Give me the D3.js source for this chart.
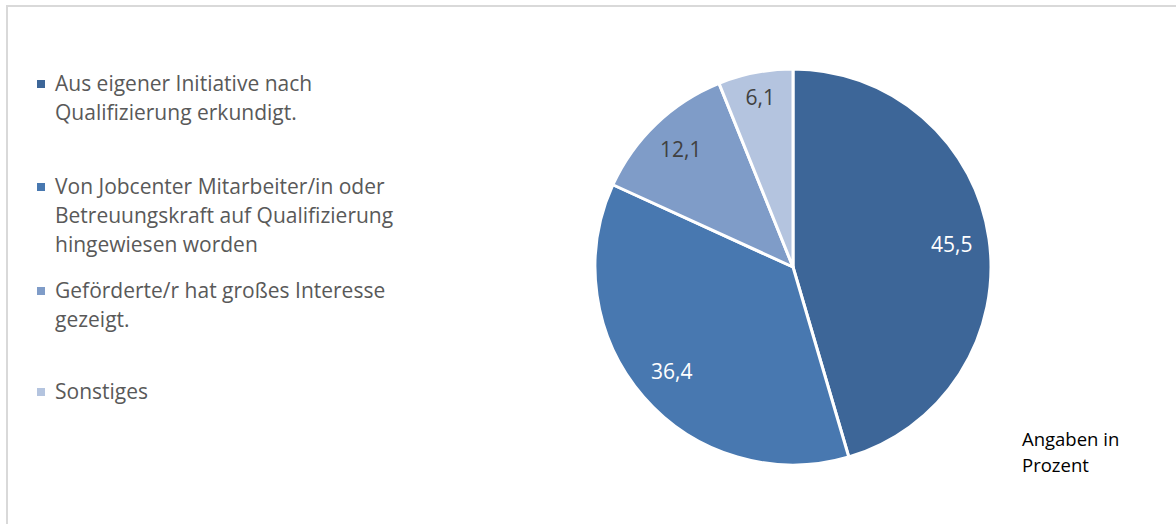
<!DOCTYPE html>
<meta charset="utf-8">
<script src="https://d3js.org/d3.v7.min.js"></script>
<style>
body { margin: 0; background: #fff; }
text { font-family: "Open Sans", sans-serif; }
</style>
<body>
<div id="chart"></div>
<script>

// data
var categories = [
  ["Aus eigener Initiative nach", "Qualifizierung erkundigt."],
  ["Von Jobcenter Mitarbeiter/in oder", "Betreuungskraft auf Qualifizierung", "hingewiesen worden"],
  ["Geförderte/r hat großes Interesse", "gezeigt."],
  ["Sonstiges"]
];
var values = [45.5, 36.4, 12.1, 6.1];
var valueLabels = ["45,5", "36,4", "12,1", "6,1"];
var colors = ["#3d6698", "#4878b0", "#7f9cc8", "#b4c4df"];
var labelColors = ["#ffffff", "#ffffff", "#404040", "#404040"];
var note = ["Angaben in", "Prozent"];

var width = 1176, height = 524;

var svg = d3.select("#chart")
  .append("svg")
    .attr("width", width)
    .attr("height", height)
    .style("display", "block");

// chart frame (right and bottom edges fall outside the picture)
svg.append("rect")
  .attr("x", 7).attr("y", 6)
  .attr("width", 1200).attr("height", 560)
  .attr("fill", "none")
  .attr("stroke", "#d9d9d9")
  .attr("stroke-width", 2);

// pie
var cx = 793, cy = 267, r = 198;
var labelPos = [0.81, 0.81, 0.82, 0.87]; // label distance as share of radius
var pie = d3.pie().sort(null).value(function(d) { return d; });
var arc = d3.arc().innerRadius(0).outerRadius(r);

var g = svg.append("g")
  .attr("transform", "translate(" + cx + "," + cy + ")");

var arcs = pie(values);

g.selectAll("path")
  .data(arcs)
  .enter()
  .append("path")
    .attr("d", arc)
    .attr("fill", function(d, i) { return colors[i]; })
    .attr("stroke", "#ffffff")
    .attr("stroke-width", 3)
    .attr("stroke-linejoin", "round");

g.selectAll(".lbl")
  .data(arcs)
  .enter()
  .append("text")
    .attr("class", "lbl")
    .attr("transform", function(d, i) {
      var lr = r * labelPos[i];
      return "translate(" + d3.arc().innerRadius(lr).outerRadius(lr).centroid(d) + ")";
    })
    .attr("dy", "0.35em")
    .attr("text-anchor", "middle")
    .style("font-size", "21px")
    .attr("fill", function(d, i) { return labelColors[i]; })
    .text(function(d, i) { return valueLabels[i]; });

// legend
var legendTop = [84, 187, 291, 392];
var lineH = 29;
var legend = svg.selectAll(".leg")
  .data(categories)
  .enter()
  .append("g")
    .attr("class", "leg")
    .attr("transform", function(d, i) { return "translate(0," + legendTop[i] + ")"; });

legend.append("rect")
  .attr("x", 37).attr("y", -4)
  .attr("width", 8).attr("height", 8)
  .attr("fill", function(d, i) { return colors[i]; });

legend.each(function(lines) {
  var t = d3.select(this).append("text")
    .attr("x", 55)
    .attr("fill", "#595959")
    .style("font-size", "21px");
  lines.forEach(function(l, j) {
    t.append("tspan")
      .attr("x", 55)
      .attr("y", j * lineH)
      .attr("dy", "0.35em")
      .text(l);
  });
});

// note
svg.append("text")
  .attr("fill", "#000000")
  .style("font-size", "18.5px")
  .selectAll("tspan")
  .data(note)
  .enter()
  .append("tspan")
    .attr("x", 1022)
    .attr("y", function(d, i) { return 440 + i * 26; })
    .attr("dy", "0.35em")
    .text(function(d) { return d; });

</script>
</body>
